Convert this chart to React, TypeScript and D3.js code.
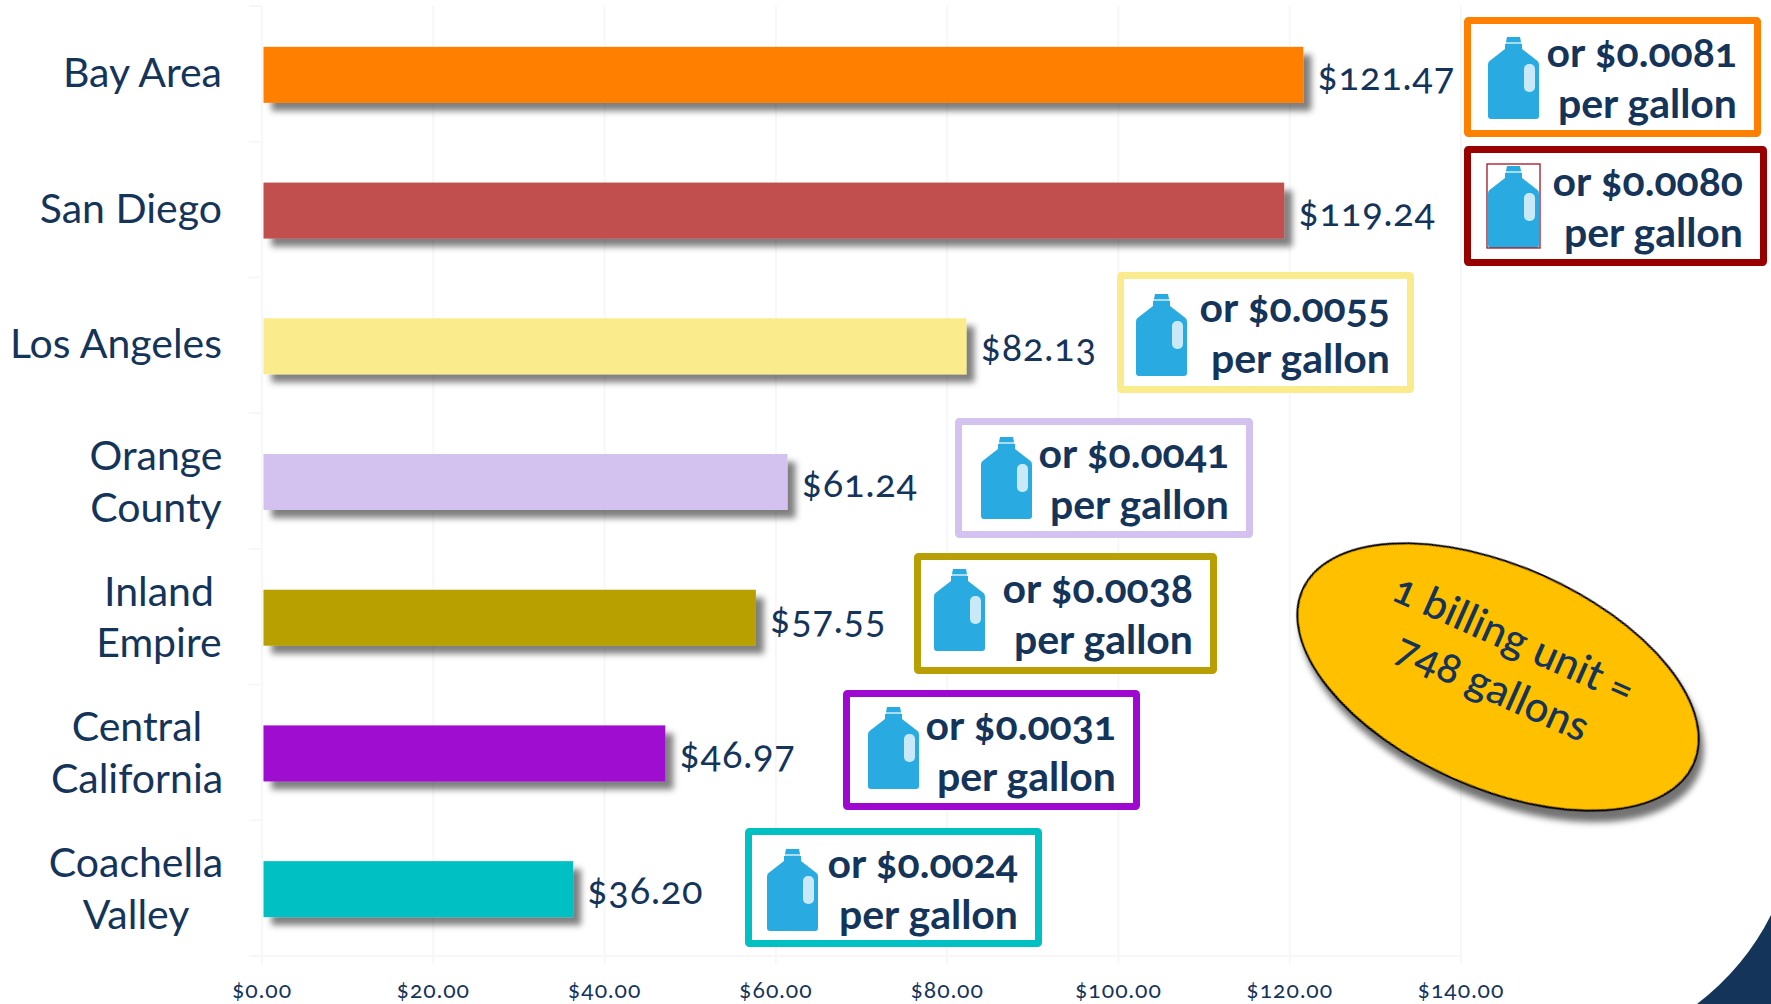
import React from "react";
import * as d3 from "d3";

const categories = ["Bay Area", "San Diego", "Los Angeles", "Orange County", "Inland Empire", "Central California", "Coachella Valley"];
const categoryLines = [["Bay Area"], ["San Diego"], ["Los Angeles"], ["Orange", "County"], ["Inland", "Empire"], ["Central", "California"], ["Coachella", "Valley"]];
const billValues = [121.47, 119.24, 82.13, 61.24, 57.55, 46.97, 36.2];
const gallonPrices = ["0.0081", "0.0080", "0.0055", "0.0041", "0.0038", "0.0031", "0.0024"];
const barColors = ["#FF8000", "#C0504D", "#FAEB8C", "#D3C1F0", "#B8A004", "#9E08D0", "#00C0C3"];
const boxColors = ["#FF8000", "#990000", "#FAEB8C", "#D3C1F0", "#B8A004", "#9E08D0", "#00C0C3"];
const xTicks = [0, 20, 40, 60, 80, 100, 120, 140];

// layout: callout boxes [x0, y0, x1, y1], outer edges
const boxRects = [
  [1464, 17, 1761, 137],
  [1464, 146, 1767, 266],
  [1117, 272, 1414, 393],
  [955, 418, 1253, 538],
  [914, 553, 1217, 674],
  [843, 690, 1140, 810],
  [745, 828, 1042, 947],
];
const bottleXY = [[1488, 37], [1488, 166], [1136, 294], [981, 437], [934, 569], [868, 707], [767, 849]];
const labelCentres = [0, 0, 0, 156, 159, 137, 136];

const NAVY = "#14345A";
const FONT = "Lato, 'Open Sans', sans-serif";

const x = d3.scaleLinear().domain([0, 140]).range([262, 1461]);
const y = d3.scaleBand().domain(categories).range([6, 956]).paddingInner(0).paddingOuter(0);

function Bottle({ px, py, frame }: { px: number; py: number; frame: boolean }) {
  return (
    <g transform={`translate(${px},${py})`}>
      <path
        fill="#29ABE2"
        d="M19 0 H32 L33 5 H18 Z M17 7 H34 V12 L49.5 24 Q51 25 51 28 V79 Q51 82 48 82 H3 Q0 82 0 79 V28 Q0 25 1.5 24 L17 12 Z"
      />
      <rect x={18} y={5} width={15} height={2} fill="#A9DDF4" />
      <rect x={36} y={27} width={11} height={28} rx={5} fill="#C9E9F8" />
      {frame && <rect x={-1} y={-2} width={53} height={84} fill="none" stroke="#A5141E" strokeWidth={1.3} />}
    </g>
  );
}

export default function App() {
  const band = y.bandwidth();
  return (
    <svg width={1771} height={1004} viewBox="0 0 1771 1004" style={{ position: "absolute", left: 0, top: 0, display: "block", background: "#fff" }} fontFamily={FONT}>
      <defs>
        <filter id="shadow" x="-5%" y="-30%" width="112%" height="170%">
          <feDropShadow dx="8" dy="8" stdDeviation="3" floodColor="#000" floodOpacity="0.5" />
        </filter>
        <filter id="shadowE" x="-10%" y="-10%" width="125%" height="125%">
          <feDropShadow dx="8" dy="8" stdDeviation="3" floodColor="#000" floodOpacity="0.55" />
        </filter>
      </defs>

      <path d="M1771 915 Q1745 967 1697 1004 H1771 Z" fill={NAVY} />

      {xTicks.map((t) => (
        <line key={t} x1={x(t)} x2={x(t)} y1={6} y2={964} stroke="#F7F7F7" strokeWidth={2} />
      ))}
      {d3.range(8).map((i) => {
        const yy = 6 + i * band;
        return <line key={i} x1={249} x2={i === 7 ? 1461 : 262} y1={yy} y2={yy} stroke="#F7F7F7" strokeWidth={2} />;
      })}

      {categories.map((c, i) => {
        const top = y(c)!;
        const mid = top + band / 2;
        const barTop = mid - 27;
        const lines = categoryLines[i];
        return (
          <g key={c}>
            <rect x={x(0) + 1.5} y={barTop} width={x(billValues[i]) - x(0) - 0.5} height={56} fill={barColors[i]} filter="url(#shadow)" />
            <text x={x(billValues[i]) + 15} y={mid + 16} fontSize={38} fill={NAVY} style={{ fontFeatureSettings: '"onum"', letterSpacing: "0.8px" }}>
              {"$" + d3.format(".2f")(billValues[i])}
            </text>
            {lines.length === 1 ? (
              <text x={222} y={mid + 13} textAnchor="end" fontSize={41} fill={NAVY}>{lines[0]}</text>
            ) : (
              lines.map((l, k) => (
                <text key={l} x={labelCentres[i]} y={mid - 11 + k * 51.5} textAnchor="middle" fontSize={41} fill={NAVY}>{l}</text>
              ))
            )}
          </g>
        );
      })}

      {xTicks.map((t) => (
        <text key={t} x={x(t)} y={998} textAnchor="middle" fontSize={23} fill={NAVY} style={{ fontFeatureSettings: '"onum"', letterSpacing: "1px" }}>
          {"$" + d3.format(".2f")(t)}
        </text>
      ))}

      {boxRects.map(([x0, y0, x1, y1], i) => (
        <g key={i}>
          <rect x={x0 + 3.5} y={y0 + 3.5} width={x1 - x0 - 7} height={y1 - y0 - 7} fill="#fff" stroke={boxColors[i]} strokeWidth={7} rx={1} />
          <Bottle px={bottleXY[i][0]} py={bottleXY[i][1]} frame={i === 1} />
          <text x={x1 - 24} y={y0 + 50} textAnchor="end" fontSize={41} fontWeight={700} fill={NAVY} style={{ fontFeatureSettings: '"onum"' }}>
            {"or $" + gallonPrices[i]}
          </text>
          <text x={x1 - 24} y={y0 + 101} textAnchor="end" fontSize={41} fontWeight={700} fill={NAVY}>per gallon</text>
        </g>
      ))}

      <g transform="translate(1498,677) rotate(24)">
        <ellipse rx={214} ry={111} fill="#FFC000" stroke="#000" strokeWidth={2} filter="url(#shadowE)" />
        <text x={-1} y={-27} textAnchor="middle" fontSize={42} fontWeight={500} fill={NAVY} style={{ fontFeatureSettings: '"onum"' }}>1 billing unit =</text>
        <text x={-1} y={26} textAnchor="middle" fontSize={42} fontWeight={500} fill={NAVY} style={{ fontFeatureSettings: '"onum"' }}>748 gallons</text>
      </g>
    </svg>
  );
}
